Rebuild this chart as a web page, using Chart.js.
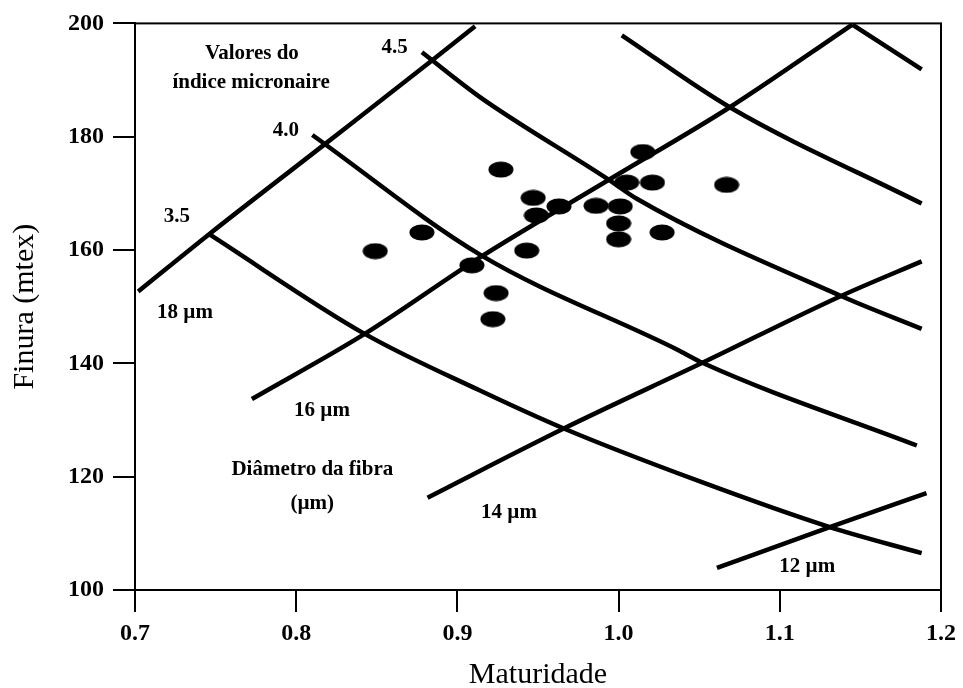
<!DOCTYPE html>
<html>
<head>
<meta charset="utf-8">
<script src="https://cdn.jsdelivr.net/npm/chart.js@4.4.1/dist/chart.umd.min.js"></script>
<style>
    html, body { margin: 0; padding: 0; background: #fff; }
</style>
</head>
<body>
<canvas id="chart-finura" width="963" height="688"></canvas>
<script>
// amostras (maturidade, finura)
let sampleX = [0.849, 0.878, 0.909, 0.927, 0.947, 0.949, 0.943, 0.924, 0.922, 1.015,
               1.005, 1.021, 1.067, 0.986, 1.001, 1.000, 1.000, 1.027, 0.963];
let sampleY = [159.8, 163.1, 157.3, 174.2, 169.2, 166.1, 159.9, 152.4, 147.8, 177.3,
               171.9, 171.9, 171.5, 167.8, 167.7, 164.7, 161.9, 163.1, 167.7];

// linhas de diametro da fibra
let fibre18 = [[0.702, 152.7], [0.746, 162.8], [0.816, 178.3], [0.884, 193.4], [0.911, 199.5]];
let fibre16 = [[0.7725, 133.7], [0.8425, 145.2], [0.914, 158.7], [0.994, 172.4], [1.069, 185.2], [1.145, 199.8]];
let fibre14 = [[0.8815, 116.3], [0.966, 128.5], [1.052, 140.1], [1.138, 151.9], [1.188, 158.0]];
let fibre12 = [[1.061, 103.9], [1.131, 111.1], [1.191, 117.1]];

// linhas de indice micronaire
let mic35 = [[0.746, 162.8], [0.8425, 145.2], [0.914, 135.2], [0.966, 128.5], [1.050, 119.2], [1.131, 111.1], [1.188, 106.5]];
let mic40 = [[0.810, 180.3], [0.914, 159.2], [1.038, 142.2], [1.052, 140.1], [1.185, 125.5]];
let mic45 = [[0.878, 194.9], [0.914, 187.0], [0.994, 172.4], [1.011, 169.1], [1.138, 151.9], [1.188, 146.1]];
let mic50 = [[1.002, 197.9], [1.069, 185.2], [1.188, 168.2]];
let mic55 = [[1.145, 199.8], [1.188, 191.9]];

let xTicks = [0.7, 0.8, 0.9, 1.0, 1.1, 1.2];
let yTicks = [100, 120, 140, 160, 180, 200];

let notes = [
    ['Valores do', 0.7725, 194.6],
    ['índice micronaire', 0.772, 189.5],
    ['4.5', 0.861, 195.8],
    ['4.0', 0.7936, 181.0],
    ['3.5', 0.726, 165.9],
    ['18 µm', 0.731, 149.0],
    ['16 µm', 0.816, 131.6],
    ['Diâmetro da fibra', 0.810, 121.3],
    ['(µm)', 0.810, 115.3],
    ['14 µm', 0.932, 113.7],
    ['12 µm', 1.117, 104.2],
];

Chart.defaults.font.family = '"Liberation Serif", "Times New Roman", serif';
Chart.defaults.color = '#000';

let finuraCanvas = document.getElementById('chart-finura');

new Chart(finuraCanvas, {
    type: 'scatter',
    data: {
        datasets: [
            {
                data: sampleX.map((x, i) => ({x: x, y: sampleY[i]})),
                pointStyle: dotImage(),
                pointRadius: 10,
                pointHoverRadius: 10,
            },
            curve(fibre18),
            curve(fibre16),
            curve(fibre14),
            curve(fibre12),
            curve(mic35),
            curve(mic40),
            curve(mic45),
            curve(mic50),
            curve(mic55),
        ],
    },
    options: {
        responsive: false,
        animation: false,
        layout: {
            padding: {top: 21, right: 21, left: 0, bottom: 0},
        },
        plugins: {
            legend: {display: false},
            tooltip: {enabled: false},
        },
        scales: {
            x: {
                type: 'linear',
                min: xTicks[0],
                max: xTicks[xTicks.length - 1],
                afterFit: (scale) => { scale.height = 98; },
                afterBuildTicks: (scale) => { scale.ticks = xTicks.map(v => ({value: v})); },
                border: {display: true, color: '#000', width: 2},
                grid: {drawOnChartArea: false, drawTicks: true, tickLength: 22, color: '#000', lineWidth: 2},
                ticks: {
                    padding: 7,
                    font: {size: 24, weight: 'bold'},
                    callback: (v) => Number(v).toFixed(1),
                },
                title: {
                    display: true,
                    text: 'Maturidade',
                    font: {size: 30, lineHeight: 1},
                    padding: {top: 0, bottom: -2},
                },
            },
            y: {
                type: 'linear',
                min: yTicks[0],
                max: yTicks[yTicks.length - 1],
                afterFit: (scale) => { scale.width = 135; },
                afterBuildTicks: (scale) => { scale.ticks = yTicks.map(v => ({value: v})); },
                border: {display: true, color: '#000', width: 2},
                grid: {drawOnChartArea: false, drawTicks: true, tickLength: 22, color: '#000', lineWidth: 2},
                ticks: {
                    padding: 9,
                    font: {size: 24, weight: 'bold'},
                },
                title: {
                    display: true,
                    text: 'Finura (mtex)',
                    font: {size: 30, lineHeight: 1},
                    padding: {top: 10, bottom: 0},
                },
            },
        },
    },
    plugins: [{
        id: 'frameAndNotes',
        afterDatasetsDraw(chart) {
            let {ctx, chartArea, scales} = chart;
            ctx.save();
            ctx.strokeStyle = '#000';
            ctx.lineWidth = 2;
            ctx.strokeRect(chartArea.left, chartArea.top, chartArea.right - chartArea.left, chartArea.bottom - chartArea.top);
            ctx.fillStyle = '#000';
            ctx.font = 'bold 21px "Liberation Serif", serif';
            ctx.textAlign = 'center';
            ctx.textBaseline = 'middle';
            notes.forEach(([text, x, y]) => {
                ctx.fillText(text, scales.x.getPixelForValue(x), scales.y.getPixelForValue(y));
            });
            ctx.restore();
        },
    }],
});

function curve(points) {
    return {
        data: points.map(p => ({x: p[0], y: p[1]})),
        showLine: true,
        pointRadius: 0,
        pointHoverRadius: 0,
        borderColor: '#000',
        borderWidth: 4.5,
        cubicInterpolationMode: 'monotone',
    };
}

function dotImage() {
    let c = document.createElement('canvas');
    c.width = 26;
    c.height = 17;
    let ctx = c.getContext('2d');
    ctx.fillStyle = '#000';
    ctx.beginPath();
    ctx.ellipse(13, 8.5, 12.5, 8, 0, 0, Math.PI * 2);
    ctx.fill();
    return c;
}
</script>
</body>
</html>
